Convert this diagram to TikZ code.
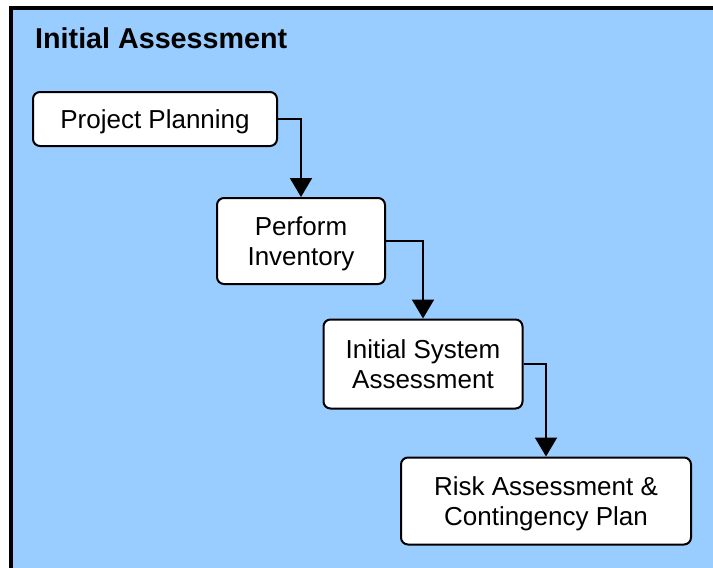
\documentclass[tikz,border=0pt]{standalone}
\usepackage{fontspec}
\setmainfont{Liberation Sans}
\usetikzlibrary{arrows.meta}
\definecolor{panelblue}{RGB}{153,204,255}
% strut that keeps cap top and last baseline centred in a box
\newcommand\bxs{\rule[-5.4pt]{0pt}{29.4pt}}
\begin{document}
\begin{tikzpicture}[x=1pt,y=-1pt,
    stage/.style={draw,line width=2pt,fill=white,rounded corners=7pt,align=center,inner sep=0pt,font=\fontsize{26}{30.5}\selectfont},
    flow/.style={line width=2pt,-{Triangle[width=22pt,length=19pt]}}]
        \useasboundingbox(0,0)rectangle(713,568);
        \fill[panelblue](11,8)rectangle(713,568);
        \draw[line width=4pt](11,568)--(11,8)--(713,8);
        \node[anchor=base west,inner sep=0pt,font=\fontsize{28.7}{34}\selectfont\bfseries](title)at(35,48){Initial Assessment};
        \node[stage,minimum width=244pt,minimum height=54pt](plan)at(155,119){\bxs Project Planning\bxs};
        \node[stage,minimum width=168pt,minimum height=86pt](inv)at(301,241){\bxs Perform\\Inventory\bxs};
        \node[stage,minimum width=199pt,minimum height=89pt](sys)at(423,364){\bxs Initial System\\Assessment\bxs};
        \node[stage,minimum width=290pt,minimum height=87pt](risk)at(546,501){\bxs Risk Assessment \&\\Contingency Plan\bxs};
        \draw[flow](plan.east)-|(inv.north);
        \draw[flow](inv.east)-|(sys.north);
        \draw[flow](sys.east)-|(risk.north);
\end{tikzpicture}
\end{document}
